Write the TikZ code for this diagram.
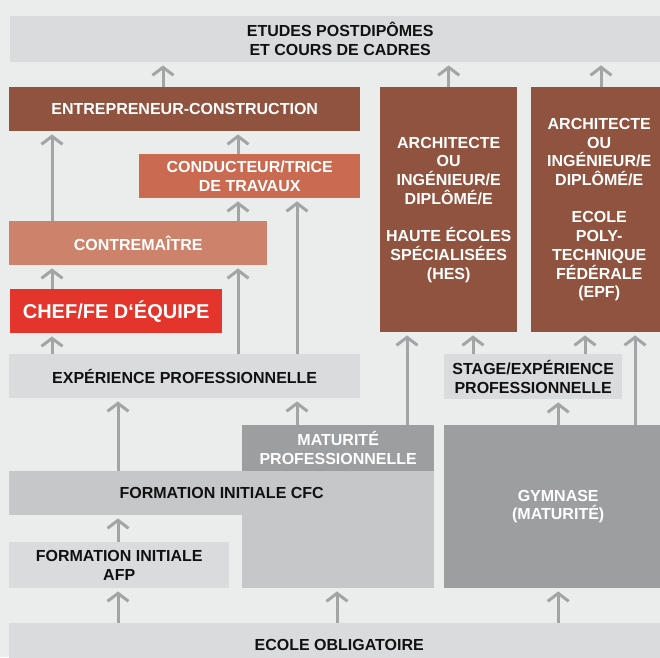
\documentclass[tikz,border=0pt]{standalone}
\usepackage{fontspec}
\setmainfont{Liberation Sans}
\usetikzlibrary{arrows.meta}
\definecolor{bgc}{HTML}{EBEDEC}
\definecolor{lgray}{HTML}{DADBDD}
\definecolor{mgray}{HTML}{C6C7C9}
\definecolor{dgray}{HTML}{9D9EA0}
\definecolor{brownc}{HTML}{90533F}
\definecolor{condc}{HTML}{C96A51}
\definecolor{contrc}{HTML}{CD836B}
\definecolor{chefc}{HTML}{E3352B}
\definecolor{arrowc}{HTML}{A3A4A6}
\definecolor{txtc}{HTML}{111111}
\begin{document}
\begin{tikzpicture}[x=1pt,y=-1pt,
  box/.style={draw=none, inner sep=0pt, anchor=north west, align=center,
    font=\bfseries\fontsize{16}{18.7}\selectfont, text=txtc},
  graybox/.style={box, fill=lgray},
  midbox/.style={box, fill=mgray},
  darkbox/.style={box, fill=dgray, text=white},
  brownbox/.style={box, fill=brownc, text=white},
  arr/.style={draw=arrowc, line width=3pt,
    -{Straight Barb[length=8pt,width=21pt]}, shorten >=3pt}
]
\fill[bgc] (0,0) rectangle (660,657);
\useasboundingbox (0,0) rectangle (660,657);

% column coordinates
\coordinate (c52) at (52,0);
\coordinate (c118) at (118,0);
\coordinate (c163) at (163,0);
\coordinate (c238) at (238,0);
\coordinate (c297) at (297,0);
\coordinate (c337) at (337,0);
\coordinate (c405) at (407,0);
\coordinate (c473) at (473,0);
\coordinate (c585) at (585,0);
\coordinate (c601) at (601,0);
\coordinate (c635) at (635,0);

% boxes
\node[graybox, minimum width=660pt, minimum height=46pt] (top) at (10,16)
  {ETUDES POSTDIPÔMES\\ET COURS DE CADRES};
\node[brownbox, minimum width=351pt, minimum height=44pt] (entr) at (9,87)
  {ENTREPRENEUR-CONSTRUCTION};
\node[brownbox, minimum width=137pt, minimum height=245pt] (hes) at (380,87)
  {ARCHITECTE\\OU\\INGÉNIEUR/E\\DIPLÔMÉ/E\\[18.7pt]HAUTE ÉCOLES\\SPÉCIALISÉES\\(HES)};
\node[brownbox, minimum width=136pt, minimum height=245pt] (epf) at (531,87)
  {ARCHITECTE\\OU\\INGÉNIEUR/E\\DIPLÔMÉ/E\\[18.7pt]ECOLE\\POLY-\\TECHNIQUE\\FÉDÉRALE\\(EPF)};
\node[box, fill=condc, text=white, minimum width=221pt, minimum height=44pt] (cond) at (139,154)
  {CONDUCTEUR/TRICE\\DE TRAVAUX};
\node[box, fill=contrc, text=white, minimum width=258pt, minimum height=44pt] (contr) at (9,221)
  {CONTREMAÎTRE};
\node[box, fill=chefc, text=white, minimum width=212pt, minimum height=44pt,
  font=\bfseries\fontsize{20}{22}\selectfont] (chef) at (10,289)
  {CHEF/FE D‘ÉQUIPE};
\node[graybox, minimum width=351pt, minimum height=44pt] (exp) at (9,354)
  {EXPÉRIENCE PROFESSIONNELLE};
\node[graybox, minimum width=178pt, minimum height=45pt] (stage) at (444,354)
  {STAGE/EXPÉRIENCE\\PROFESSIONNELLE};
\node[darkbox, minimum width=192pt, minimum height=46pt] (mat) at (242,425)
  {MATURITÉ\\PROFESSIONNELLE};
\node[darkbox, minimum width=228pt, minimum height=163pt] (gym) at (444,425)
  {GYMNASE\\(MATURITÉ)};
\node[midbox, minimum width=425pt, minimum height=44pt] (cfc) at (9,471)
  {FORMATION INITIALE CFC};
\node[midbox, minimum width=192pt, minimum height=73pt] (cfcbase) at (242,515) {};
\node[graybox, minimum width=220pt, minimum height=46pt] (afp) at (9,542)
  {FORMATION INITIALE\\AFP};
\node[graybox, minimum width=660pt, minimum height=44pt] (ecole) at (9,623)
  {ECOLE OBLIGATOIRE};

% arrows
\draw[arr] (entr.north -| c163) -- (top.south -| c163);
\draw[arr] (hes.north) -- (top.south -| hes.north);
\draw[arr] (epf.north -| c601) -- (top.south -| c601);
\draw[arr] (contr.north -| c52) -- (entr.south -| c52);
\draw[arr] (cond.north -| c238) -- (entr.south -| c238);
\draw[arr] (contr.north -| c238) -- (cond.south -| c238);
\draw[arr] (exp.north -| c297) -- (cond.south -| c297);
\draw[arr] (chef.north -| c52) -- (contr.south -| c52);
\draw[arr] (exp.north -| c238) -- (contr.south -| c238);
\draw[arr] (exp.north -| c52) -- (chef.south -| c52);
\draw[arr] (mat.north -| c405) -- (hes.south -| c405);
\draw[arr] (stage.north -| c473) -- (hes.south -| c473);
\draw[arr] (stage.north -| c585) -- (epf.south -| c585);
\draw[arr] (gym.north -| c635) -- (epf.south -| c635);
\draw[arr] (gym.north) -- (stage.south -| gym.north);
\draw[arr] (cfc.north -| c118) -- (exp.south -| c118);
\draw[arr] (mat.north -| c297) -- (exp.south -| c297);
\draw[arr] (afp.north -| c118) -- (cfc.south -| c118);
\draw[arr] (ecole.north -| c118) -- (afp.south -| c118);
\draw[arr] (ecole.north -| c337) -- (cfcbase.south -| c337);
\draw[arr] (ecole.north -| gym.south) -- (gym.south);
\end{tikzpicture}
\end{document}
